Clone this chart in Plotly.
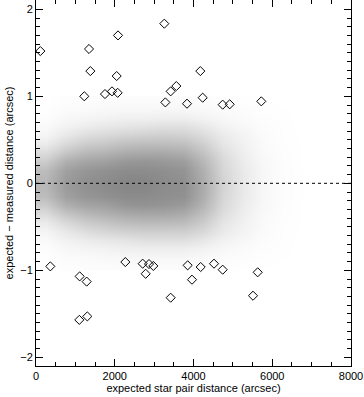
import plotly.graph_objects as go

# Outlier pairs (diamonds): expected distance (arcsec), expected - measured (arcsec)
outlier_x = [110, 1227, 1346, 1380, 1752, 1930, 2074, 2049, 2083, 3259, 3285, 3420, 3564,
             3835, 4173, 4233, 4741, 4919, 5722,
             364, 1109, 1287, 1100, 1303, 2269, 2709, 2870, 2980, 2785, 3420,
             3852, 3962, 4182, 4521, 4741, 5630, 5511]
outlier_y = [1.52, 1.00, 1.544, 1.29, 1.026, 1.057, 1.04, 1.233, 1.70, 1.835, 0.93, 1.057, 1.118,
             0.915, 1.29, 0.984, 0.904, 0.908, 0.942,
             -0.955, -1.07, -1.13, -1.57, -1.53, -0.905, -0.924, -0.928, -0.95, -1.04, -1.315,
             -0.943, -1.108, -0.962, -0.924, -0.993, -1.023, -1.292]

# Density of the dense point cloud (fraction of inked area)
density_x = [250, 750, 1250, 1750, 2250, 2750, 3250, 3750, 4250, 4750, 5250, 5750, 6250, 6750, 7250, 7750]
density_y = [0.95, 0.85, 0.75, 0.65, 0.55, 0.45, 0.35, 0.25, 0.15, 0.05,
             -0.05, -0.15, -0.25, -0.35, -0.45, -0.55, -0.65, -0.75, -0.85, -0.95]
density = [
    [0, .008, .01, .012, .015, .015, .015, .015, .012, .006, .004, .002, 0, 0, 0, 0],
    [.005, .015, .02, .025, .03, .03, .03, .03, .025, .015, .01, .005, .002, 0, 0, 0],
    [.01, .03, .04, .05, .06, .06, .065, .065, .05, .03, .018, .009, .004, 0, 0, 0],
    [.02, .05, .07, .09, .10, .11, .12, .12, .09, .05, .03, .012, .005, 0, 0, 0],
    [.04, .09, .13, .15, .17, .18, .19, .18, .14, .08, .045, .018, .006, 0, 0, 0],
    [.08, .15, .20, .22, .25, .26, .26, .25, .19, .10, .055, .022, .007, .001, 0, 0],
    [.14, .23, .28, .30, .33, .34, .34, .32, .24, .13, .065, .025, .009, .001, 0, 0],
    [.20, .31, .35, .37, .40, .41, .40, .38, .28, .15, .075, .03, .01, .001, 0, 0],
    [.26, .37, .41, .43, .45, .45, .44, .42, .31, .16, .085, .033, .011, .002, 0, 0],
    [.28, .39, .43, .45, .47, .47, .45, .43, .32, .17, .085, .033, .011, .002, 0, 0],
    [.28, .39, .43, .45, .47, .47, .45, .44, .33, .17, .085, .033, .011, .002, 0, 0],
    [.26, .37, .41, .43, .45, .45, .44, .43, .32, .16, .085, .033, .011, .002, 0, 0],
    [.20, .31, .35, .37, .41, .42, .41, .39, .29, .15, .075, .03, .01, .001, 0, 0],
    [.14, .23, .28, .31, .34, .35, .35, .33, .25, .13, .065, .025, .009, .001, 0, 0],
    [.08, .15, .20, .23, .26, .27, .27, .26, .20, .10, .055, .022, .007, .001, 0, 0],
    [.04, .09, .13, .16, .18, .19, .19, .19, .15, .08, .045, .018, .006, 0, 0, 0],
    [.02, .05, .07, .09, .10, .12, .12, .12, .09, .05, .03, .012, .005, 0, 0, 0],
    [.01, .03, .04, .05, .06, .065, .065, .065, .05, .03, .018, .009, .004, 0, 0, 0],
    [.005, .015, .02, .025, .03, .03, .03, .03, .025, .015, .01, .005, .002, 0, 0, 0],
    [0, .008, .01, .012, .015, .015, .015, .015, .012, .006, .004, .002, 0, 0, 0, 0],
]

x_ticks = [0, 2000, 4000, 6000, 8000]
y_ticks = [-2, -1, 0, 1, 2]

FONT = "Liberation Sans"

fig = go.Figure()
fig.add_trace(go.Heatmap(
    x=density_x, y=density_y[::-1], z=density[::-1],
    zmin=0, zmax=1, zsmooth="best",
    colorscale=[[0, "white"], [1, "black"]],
    showscale=False, hoverinfo="skip",
))
fig.add_hline(y=0, line=dict(color="black", width=1, dash="dot"))
fig.add_trace(go.Scatter(
    x=outlier_x, y=outlier_y, mode="markers",
    marker=dict(symbol="diamond-open", size=7, color="black", line=dict(width=1, color="black")),
    showlegend=False,
))

axis_common = dict(
    showgrid=False, zeroline=False, showline=True, linecolor="black", linewidth=1,
    mirror="allticks", ticks="inside", tickcolor="black", tickwidth=1, ticklen=7,
    tickfont=dict(family=FONT, size=11, color="black"), automargin=False,
)
fig.update_xaxes(range=[0, 8000], tickvals=x_ticks,
                 minor=dict(dtick=500, ticks="inside", ticklen=4, tickcolor="black"),
                 title=dict(text="expected star pair distance (arcsec)", standoff=2,
                            font=dict(family=FONT, size=11, color="black")),
                 **axis_common)
fig.update_yaxes(range=[-2.1, 2.107], tickvals=y_ticks,
                 minor=dict(dtick=0.1, ticks="inside", ticklen=4, tickcolor="black"),
                 title=dict(text="expected \u2212 measured distance (arcsec)", standoff=4,
                            font=dict(family=FONT, size=11, color="black")),
                 **axis_common)
fig.update_layout(
    width=364, height=397,
    margin=dict(l=36, r=13, t=0, b=31),
    plot_bgcolor="white", paper_bgcolor="white",
    showlegend=False,
)
fig.write_html("out.html", config={"displayModeBar": False},
               post_script="document.body.style.margin='0';document.body.style.overflow='hidden';")
